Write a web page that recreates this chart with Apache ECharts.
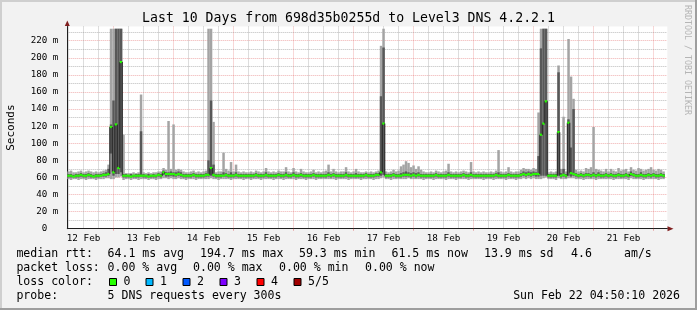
<!DOCTYPE html>
<html><head><meta charset="utf-8">
<script src="https://cdn.jsdelivr.net/npm/echarts@6/dist/echarts.min.js"></script>
<style>html,body{margin:0;padding:0;background:#f2f2f2;}#c{width:697px;height:310px;}</style>
</head><body><div id="c"></div>
<script>
// ---- data: hourly columns (k = hours since Feb 12 05:30) ----
const dayLabels = ['12 Feb','13 Feb','14 Feb','15 Feb','16 Feb','17 Feb','18 Feb','19 Feb','20 Feb','21 Feb'];
const yTickStep = 20;
const median = [
62,62,61,62,62,63,62,62,63,62,61,62,62,62,63,63,64,119,66,122,71,195,62,62,
62,61,62,62,62,62,62,62,61,62,62,62,63,62,66,64,64,64,64,63,64,63,62,62,
62,62,63,62,62,62,62,63,63,71,63,62,62,62,62,63,62,62,62,63,62,62,62,62,
62,62,62,63,62,62,62,63,62,62,62,62,63,62,62,63,62,62,63,62,62,63,62,62,
62,62,63,62,62,62,62,62,63,62,63,62,62,62,62,63,62,62,62,62,62,62,62,63,
62,62,62,63,63,66,123,62,62,62,63,62,62,62,63,63,63,62,63,62,63,62,62,62,
62,62,62,63,62,62,62,62,63,62,62,62,62,62,63,62,62,63,62,62,62,62,62,62,
62,62,62,63,62,62,62,62,63,62,62,62,62,63,64,63,64,63,64,64,64,110,123,149,
62,62,62,62,113,62,63,62,124,65,64,63,62,63,62,63,63,62,63,62,63,62,62,63,
62,63,62,62,63,62,62,63,62,64,63,62,62,63,62,62,63,62,63,62,62,63,62,null];
const pingMin = [
58,57,58,58,57,58,58,57,58,58,58,57,58,58,58,59,59,58,58,60,60,61,57,58,
58,57,58,58,57,58,58,58,57,58,58,57,58,58,59,59,58,59,58,58,59,58,58,57,
58,58,58,57,58,58,58,58,58,59,58,58,57,58,58,58,58,57,58,58,58,58,57,58,
58,57,58,58,58,57,58,58,58,58,57,58,58,58,57,58,58,58,58,57,58,58,58,57,
58,58,58,57,58,58,58,58,58,58,58,57,58,58,58,58,57,58,58,58,58,57,58,58,
58,58,57,58,58,59,60,58,58,57,58,58,58,58,58,58,59,58,58,58,58,58,57,58,
58,58,57,58,58,58,58,57,58,58,58,57,58,58,58,58,57,58,58,58,58,58,57,58,
58,58,57,58,58,58,58,57,58,58,58,57,58,58,59,58,59,58,59,58,58,58,59,60,
58,58,58,57,59,58,58,58,59,59,59,58,58,58,57,58,58,58,58,57,58,58,58,58,
58,58,57,58,58,58,58,58,57,59,58,58,58,58,57,58,58,58,58,58,57,58,58,null];
const pingLow = [
60,60,60,60,60,61,60,60,61,60,60,60,60,61,61,61,62,88,62,64,64,66,60,60,
60,60,60,60,60,61,60,60,60,60,60,60,61,60,63,61,61,62,61,61,62,61,60,60,
60,60,61,60,60,60,60,61,61,62,61,60,60,60,61,61,60,60,60,61,60,60,60,60,
60,60,60,61,60,60,60,61,60,60,60,60,61,60,60,61,60,60,61,60,60,61,60,60,
60,60,61,60,60,60,60,60,61,60,61,60,60,60,60,61,60,60,60,60,60,60,60,61,
60,60,60,61,61,62,63,60,60,60,61,60,60,60,61,61,61,60,61,60,61,60,60,60,
60,60,60,61,60,60,60,60,61,60,60,60,60,60,61,60,60,61,60,60,60,60,60,60,
60,60,60,61,60,60,60,60,61,60,60,60,60,61,62,61,62,61,62,61,61,62,62,62,
60,60,60,60,62,60,61,60,62,61,62,61,60,61,60,61,61,60,61,60,61,60,60,61,
60,61,60,60,61,60,60,61,60,62,61,60,60,61,60,60,61,60,61,60,60,61,60,null];
const pingHigh = [
64,64,63,64,64,65,64,64,65,64,63,64,64,64,65,66,70,122,150,234,234,234,64,64,
63,64,63,64,64,114,64,63,64,63,64,63,65,64,68,66,66,67,66,66,67,66,64,64,
64,64,65,64,64,64,64,65,80,150,75,64,64,64,66,65,64,66,64,66,64,64,64,64,
64,64,64,65,64,64,64,66,64,64,64,64,65,64,64,66,64,64,66,64,64,65,64,64,
64,64,65,64,64,64,64,64,66,64,65,64,64,64,64,66,64,64,64,65,64,64,64,65,
64,64,64,65,65,155,212,64,64,64,65,64,64,65,66,67,66,65,66,65,66,64,64,64,
64,64,64,65,64,64,64,64,66,64,64,64,64,64,65,64,64,66,64,64,64,64,64,64,
64,64,64,65,66,64,64,64,65,64,64,64,64,65,67,66,67,66,67,66,85,211,234,234,
64,64,64,64,183,65,70,64,128,95,140,65,64,65,64,65,65,64,66,64,66,64,64,65,
64,65,64,64,65,64,64,65,64,67,65,64,64,66,64,64,65,64,65,64,64,65,64,null];
const pingMax = [
67,68,66,66,67,68,66,67,68,67,66,67,66,67,68,69,75,234,234,234,234,234,110,65,
65,65,66,65,66,157,66,65,66,65,66,66,67,67,71,69,126,70,122,69,70,69,67,66,
66,67,68,66,67,66,67,68,234,234,125,66,67,67,89,70,68,78,67,75,67,66,67,66,
66,67,66,68,67,66,67,71,67,66,67,66,68,67,67,72,67,66,71,67,66,70,67,66,
66,67,69,66,67,66,67,68,75,67,70,67,66,67,67,72,67,66,67,70,67,66,66,67,
66,67,66,67,68,214,234,67,66,67,69,67,68,73,75,79,77,72,74,70,73,69,67,66,
66,67,66,68,67,66,67,68,76,67,66,67,66,67,68,67,66,78,67,66,67,66,67,66,
66,67,66,68,92,67,66,67,72,67,66,67,67,69,71,70,70,69,71,70,136,234,234,234,
66,67,66,67,191,70,131,67,222,178,152,69,67,68,67,71,70,72,119,70,69,68,67,70,
67,70,68,67,71,68,69,70,67,72,69,68,71,70,68,69,70,72,69,68,70,69,67,null];
const rttStats = ['64.1 ms avg','194.7 ms max','59.3 ms min','61.5 ms now','13.9 ms sd','4.6','am/s'];
const lossStats = ['0.00 % avg','0.00 % max','0.00 % min','0.00 % now'];
const lossColors = [['0','#26ff00'],['1','#00b8ff'],['2','#0059ff'],['3','#7e00ff'],['4','#ff0000'],['5/5','#a10000']];
const probeText = '5 DNS requests every 300s';
const stampText = 'Sun Feb 22 04:50:10 2026';
const titleText = 'Last 10 Days from 698d35b0255d to Level3 DNS 4.2.2.1';

// ---- layout ----
const HOURS = 240, YMAX = 236.6;
const PL = 67.3, PW = 600, PT = 26.5, PH = 202.2;
const FONT = '"DejaVu Sans Mono", monospace';
const LEG = '11.55px ' + FONT;
const slots = Array.from({length: HOURS * 2 + 1}, (_, i) => String(i)); // half-hour slots from 05:30
const isDay = i => i >= 37 && (i - 37) % 48 === 0;
const isSix = i => i >= 1 && (i - 1) % 12 === 0 && !isDay(i);
const isNoon = i => i >= 13 && (i - 13) % 48 === 0;

const smokeData = [], medData = [];
for (let k = 0; k < HOURS; k++) {
  if (median[k] == null) continue;
  smokeData.push([k, pingMin[k], pingLow[k], pingHigh[k], pingMax[k]]);
  const prev = (k > 0 && median[k-1] != null) ? median[k-1] : median[k];
  medData.push([k, median[k], prev]);
}

function renderSmoke(params, api) {
  const k = api.value(0);
  const x0 = api.coord([k, 0])[0], x1 = api.coord([k + 1, 0])[0];
  const y1 = api.coord([k, api.value(1)])[1], y2 = api.coord([k, api.value(2)])[1];
  const y4 = api.coord([k, api.value(3)])[1], y5 = api.coord([k, api.value(4)])[1];
  return {type: 'group', children: [
    {type: 'rect', shape: {x: x0, y: y5, width: x1 - x0, height: y1 - y5}, style: {fill: '#a4a4a4'}},
    {type: 'rect', shape: {x: x0, y: y4, width: x1 - x0, height: y2 - y4}, style: {fill: '#585858'}}
  ]};
}
function renderMed(params, api) {
  const k = api.value(0);
  const x0 = api.coord([k, 0])[0], x1 = api.coord([k + 1, 0])[0];
  const ym = api.coord([k, api.value(1)])[1], yp = api.coord([k, api.value(2)])[1];
  const ch = [];
  if (Math.abs(ym - yp) > 1.5) ch.push({type: 'rect', shape: {x: x0 - 0.5, y: Math.min(ym, yp), width: 1, height: Math.abs(ym - yp)}, style: {fill: '#202020'}});
  ch.push({type: 'rect', shape: {x: x0, y: ym - 1.1, width: x1 - x0, height: 2.2}, style: {fill: '#26ff00'}});
  return {type: 'group', children: ch};
}

const txt = (x, y, text, extra) => Object.assign({type: 'text', x: x, y: y, silent: true,
  style: Object.assign({text: text, font: LEG, fill: '#000', textAlign: 'left', align: 'left', textVerticalAlign: 'middle', verticalAlign: 'middle'}, extra || {})});

const graphics = [
  {type: 'rect', shape: {x: 0, y: 0, width: 697, height: 2}, style: {fill: '#cfcfcf'}, silent: true},
  {type: 'rect', shape: {x: 0, y: 0, width: 2, height: 310}, style: {fill: '#cfcfcf'}, silent: true},
  {type: 'rect', shape: {x: 695, y: 0, width: 2, height: 310}, style: {fill: '#9e9e9e'}, silent: true},
  {type: 'rect', shape: {x: 0, y: 308, width: 697, height: 2}, style: {fill: '#9e9e9e'}, silent: true},
  txt(348.5, 18.5, titleText, {font: '13.2px ' + FONT, textAlign: 'center', align: 'center'}),
  {type: 'text', x: 687, y: 60, rotation: -Math.PI / 2, silent: true,
   style: {text: 'RRDTOOL / TOBI OETIKER', font: '8.3px ' + FONT, fill: '#b5b5b5', textAlign: 'center', align: 'center', textVerticalAlign: 'middle', verticalAlign: 'middle'}},
  {type: 'polygon', shape: {points: [[64.8, 26], [67.3, 20.5], [69.8, 26]]}, style: {fill: '#801f1f'}, silent: true},
  {type: 'polygon', shape: {points: [[667.5, 226.2], [673.5, 228.7], [667.5, 231.2]]}, style: {fill: '#801f1f'}, silent: true},
  txt(16.4, 254, 'median rtt:'),
  txt(107.6, 254, rttStats[0]), txt(200, 254, rttStats[1]), txt(299, 254, rttStats[2]),
  txt(391.5, 254, rttStats[3]), txt(484, 254, rttStats[4]), txt(571, 254, rttStats[5]), txt(624, 254, rttStats[6]),
  txt(16.4, 268, 'packet loss:'),
  txt(107.6, 268, lossStats[0]), txt(193, 268, lossStats[1]), txt(279, 268, lossStats[2]), txt(365, 268, lossStats[3]),
  txt(16.4, 282, 'loss color:'),
  txt(16.4, 296, 'probe:'), txt(107.6, 296, probeText),
  txt(680, 296, stampText, {textAlign: 'right', align: 'right'})
];
const boxX = [109, 145.5, 182.5, 219.5, 256.5, 293.5];
lossColors.forEach((lc, i) => {
  graphics.push({type: 'rect', shape: {x: boxX[i] + 0.5, y: 278.5, width: 7, height: 7}, style: {fill: lc[1], stroke: '#000', lineWidth: 1}, silent: true});
  graphics.push(txt(boxX[i] + 14.6, 282, lc[0]));
});

const chart = echarts.init(document.getElementById('c'), null, {renderer: 'canvas'});
chart.setOption({
  animation: false,
  backgroundColor: '#f2f2f2',
  grid: [
    {left: PL, top: PT, width: PW, height: PH, show: true, backgroundColor: '#ffffff', borderWidth: 0, containLabel: false, outerBoundsMode: 'none'},
    {left: PL, top: PT, width: PW, height: PH - 10 * PH / YMAX, show: false, containLabel: false, outerBoundsMode: 'none'}
  ],
  xAxis: [
    {type: 'value', gridIndex: 0, min: 0, max: HOURS, show: false},
    {type: 'category', gridIndex: 0, data: slots, boundaryGap: false, position: 'bottom',
     axisLine: {show: true, lineStyle: {color: '#1f1f1f', width: 1}},
     axisTick: {show: true, interval: (i) => isDay(i), length: 2, lineStyle: {color: 'rgba(222,79,79,0.5)'}},
     axisLabel: {show: true, interval: (i) => isNoon(i), margin: 5,
       formatter: (v, i) => dayLabels[(i - 13) / 48] || '', fontFamily: FONT, fontSize: 9.3, color: '#000'},
     splitLine: {show: true, interval: (i) => isSix(i), lineStyle: {color: 'rgba(143,143,143,0.6)', type: [1, 1], width: 1}}},
    {type: 'category', gridIndex: 0, data: slots, boundaryGap: false,
     axisLine: {show: false}, axisTick: {show: false}, axisLabel: {show: false},
     splitLine: {show: true, interval: (i) => isDay(i), lineStyle: {color: 'rgba(222,79,79,0.45)', type: [1, 1], width: 1}}},
    {type: 'value', gridIndex: 1, min: 0, max: 1, show: false}
  ],
  yAxis: [
    {type: 'value', gridIndex: 0, min: 0, max: YMAX, interval: yTickStep,
     name: 'Seconds', nameLocation: 'middle', nameRotate: 90, nameGap: 51,
     nameTextStyle: {fontFamily: FONT, fontSize: 11, color: '#000'},
     axisLine: {show: true, lineStyle: {color: '#1f1f1f', width: 1}},
     axisTick: {show: false},
     axisLabel: {margin: 9, fontFamily: FONT, fontSize: 9.2, color: '#000', showMaxLabel: false,
       formatter: v => (v % yTickStep !== 0) ? '' : (v === 0 ? '0  ' : v + ' m')},
     splitLine: {show: true, showMinLine: false, showMaxLine: false, lineStyle: {color: 'rgba(222,79,79,0.45)', type: [1, 1], width: 1}}},
    {type: 'value', gridIndex: 1, min: 10, max: YMAX, interval: 20,
     axisLine: {show: false}, axisTick: {show: false}, axisLabel: {show: false},
     splitLine: {show: true, showMaxLine: false, lineStyle: {color: 'rgba(143,143,143,0.6)', type: [1, 1], width: 1}}}
  ],
  series: [
    {type: 'custom', xAxisIndex: 0, yAxisIndex: 0, renderItem: renderSmoke, data: smokeData, encode: {x: 0, y: [1, 4]}, z: 2, silent: true},
    {type: 'custom', xAxisIndex: 0, yAxisIndex: 0, renderItem: renderMed, data: medData, encode: {x: 0, y: 1}, z: 3, silent: true}
  ],
  graphic: graphics
});
</script></body></html>
